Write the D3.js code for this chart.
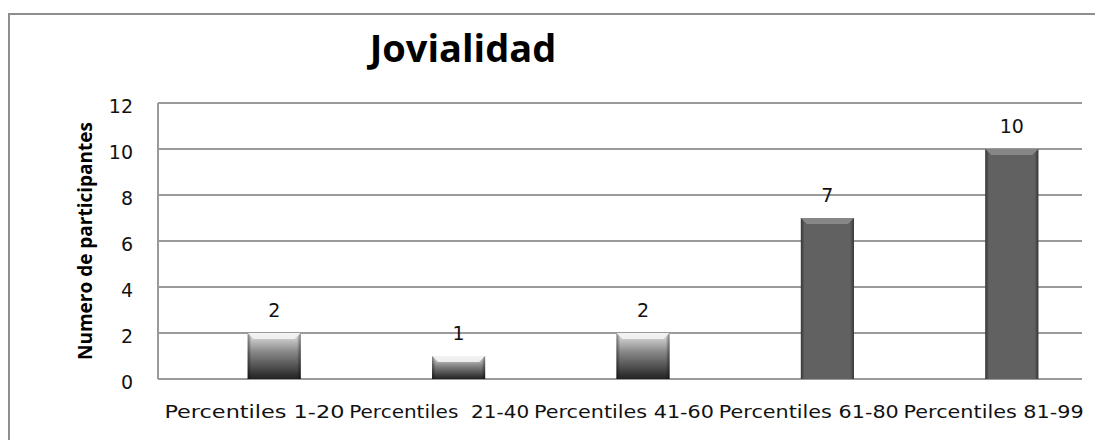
<!DOCTYPE html>
<html><head><meta charset="utf-8">
<script src="https://cdn.jsdelivr.net/npm/d3@7"></script>
<style>html,body{margin:0;padding:0;background:#fff;}svg{display:block;}</style>
</head><body>
<svg id="chart" width="1095" height="440"></svg>
<script>
const title = "Jovialidad";
const yTitle = "Numero de participantes";
const categories = ["Percentiles 1-20", "Percentiles  21-40", "Percentiles 41-60", "Percentiles 61-80", "Percentiles 81-99"];
const values = [2, 1, 2, 7, 10];
const yTicks = [0, 2, 4, 6, 8, 10, 12];

const svg = d3.select("#chart");
const W = 1095, H = 440;
const plot = {left: 158, right: 1082, top: 103, bottom: 379};
const grid = "#9a9a9a";

// outer frame
svg.append("path").attr("d", `M9,${H} L9,14 L${W},14`).attr("fill","none").attr("stroke","#8e8e8e").attr("stroke-width",2);

const y = d3.scaleLinear().domain([0, 12]).range([plot.bottom, plot.top]);
const xLab = d3.scaleBand().domain(categories).range([162, 1086]);
const xBar = d3.scaleBand().domain(categories).range([182, 1104]).paddingInner(0.712).paddingOuter(0.356);

const defs = svg.append("defs");
const g1 = defs.append("linearGradient").attr("id","gShort").attr("x1",0).attr("y1",0).attr("x2",0).attr("y2",1);
g1.append("stop").attr("offset","0%").attr("stop-color","#e6e6e6");
g1.append("stop").attr("offset","40%").attr("stop-color","#8a8a8a");
g1.append("stop").attr("offset","100%").attr("stop-color","#222");
const g2 = defs.append("linearGradient").attr("id","gSide").attr("x1",0).attr("y1",0).attr("x2",1).attr("y2",0);
g2.append("stop").attr("offset","0%").attr("stop-color","#000").attr("stop-opacity",0.45);
g2.append("stop").attr("offset","7%").attr("stop-color","#000").attr("stop-opacity",0);
g2.append("stop").attr("offset","93%").attr("stop-color","#000").attr("stop-opacity",0);
g2.append("stop").attr("offset","100%").attr("stop-color","#000").attr("stop-opacity",0.45);

// gridlines
svg.append("g").selectAll("line").data(yTicks).join("line")
  .attr("x1", plot.left).attr("x2", plot.right)
  .attr("y1", d => y(d)).attr("y2", d => y(d))
  .attr("stroke", grid).attr("stroke-width", 2);
// left axis line
svg.append("line").attr("x1", plot.left).attr("x2", plot.left).attr("y1", y(12)).attr("y2", y(0))
  .attr("stroke", grid).attr("stroke-width", 2);

// y tick labels
svg.append("g").selectAll("text").data(yTicks).join("text")
  .attr("x", 133).attr("y", d => y(d) + 3).attr("dy", "0.35em")
  .attr("text-anchor", "end")
  .attr("font-family", "DejaVu Sans").attr("font-size", 19).attr("fill", "#111")
  .text(d => d);

// bars
const data = categories.map((c, i) => ({c, v: values[i]}));
const bars = svg.append("g").selectAll("g").data(data).join("g");
bars.append("rect")
  .attr("x", d => xBar(d.c)).attr("width", xBar.bandwidth())
  .attr("y", d => y(d.v)).attr("height", d => y(0) - y(d.v))
  .attr("fill", d => d.v < 5 ? "url(#gShort)" : "#616161");
bars.append("rect")
  .attr("x", d => xBar(d.c)).attr("width", xBar.bandwidth())
  .attr("y", d => y(d.v)).attr("height", d => y(0) - y(d.v))
  .attr("fill", "url(#gSide)");
bars.append("path")
  .attr("d", d => {
    const x0 = xBar(d.c), x1 = x0 + xBar.bandwidth(), t = y(d.v), b = 6;
    return `M${x0},${t} L${x1},${t} L${x1-b},${t+b} L${x0+b},${t+b} Z`;
  })
  .attr("fill", d => d.v < 5 ? "#f4f4f4" : "#8c8c8c").attr("opacity", 0.9);

// data labels
bars.append("text")
  .attr("x", d => xBar(d.c) + xBar.bandwidth()/2)
  .attr("y", d => y(d.v) - 16)
  .attr("text-anchor", "middle")
  .attr("font-family", "DejaVu Sans").attr("font-size", 19).attr("fill", "#111")
  .text(d => d.v);

// category labels
svg.append("g").selectAll("text").data(categories).join("text")
  .attr("x", d => xLab(d) + xLab.bandwidth()/2 - 90)
  .attr("y", 418)
  .attr("font-family", "DejaVu Sans").attr("font-size", 18).attr("fill", "#111")
  .attr("textLength", 180).attr("lengthAdjust", "spacingAndGlyphs")
  .attr("xml:space", "preserve")
  .style("white-space", "pre")
  .text(d => d);

// title
svg.append("text").attr("x", 463).attr("y", 62).attr("text-anchor","middle")
  .attr("font-family","Open Sans").attr("font-weight","bold").attr("font-size", 38).attr("fill","#000")
  .text(title);

// y axis title
svg.append("text").attr("transform", "translate(92,241) rotate(-90)")
  .attr("text-anchor","middle")
  .attr("font-family","Open Sans").attr("font-weight","bold").attr("font-size", 19).attr("fill","#000")
  .text(yTitle);
</script>
</body></html>
